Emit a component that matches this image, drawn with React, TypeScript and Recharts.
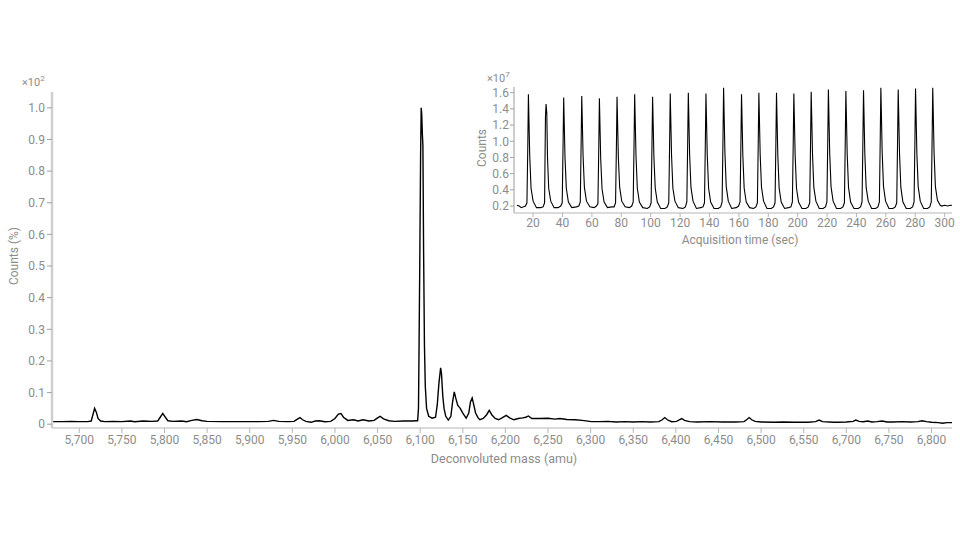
import React from 'react';
import { LineChart, Line, XAxis, YAxis } from 'recharts';

// deconvoluted spectrum, [mass (amu), counts ×10² %]
const spectrumLowMass: [number, number][] = [
  [5668, 0.008], [5680, 0.008], [5690, 0.009], [5700, 0.008], [5710, 0.008],
  [5714, 0.01], [5716, 0.03], [5718, 0.05], [5720, 0.038], [5722, 0.018],
  [5725, 0.01], [5730, 0.008], [5740, 0.009], [5750, 0.008], [5760, 0.01],
  [5765, 0.008], [5775, 0.01], [5785, 0.009], [5792, 0.01], [5795, 0.022],
  [5798, 0.034], [5801, 0.022], [5804, 0.011], [5810, 0.009], [5820, 0.01],
  [5826, 0.008], [5832, 0.012], [5838, 0.015], [5844, 0.011], [5850, 0.009],
  [5870, 0.008], [5890, 0.008], [5910, 0.008], [5922, 0.009], [5928, 0.012],
  [5934, 0.009], [5945, 0.008], [5952, 0.009], [5956, 0.016], [5959, 0.021],
  [5962, 0.014], [5966, 0.009], [5972, 0.006], [5977, 0.01], [5982, 0.011],
  [5988, 0.008], [5995, 0.009], [6000, 0.018], [6004, 0.032], [6007, 0.034],
  [6010, 0.022], [6015, 0.012], [6022, 0.014], [6027, 0.01], [6033, 0.014],
  [6040, 0.01], [6046, 0.012], [6050, 0.02], [6053, 0.025], [6057, 0.017],
  [6063, 0.011], [6070, 0.009], [6080, 0.01], [6090, 0.01], [6096, 0.011],
];

const spectrumMainPeaks: [number, number][] = [
  [6097, 0.011], [6098, 0.05], [6098.6, 0.22], [6099.5, 0.5], [6100.5, 0.85],
  [6101.2, 1.0], [6101.8, 0.98], [6102.5, 0.92], [6103.2, 0.88], [6104, 0.55],
  [6105, 0.25], [6106, 0.12], [6107.5, 0.05], [6110, 0.025], [6114, 0.019],
  [6118, 0.022], [6120, 0.06], [6122, 0.13], [6124, 0.178], [6125, 0.16],
  [6126.5, 0.09], [6128, 0.05], [6130, 0.025], [6133, 0.013], [6136, 0.025],
  [6138, 0.07], [6140, 0.102], [6142, 0.08], [6144, 0.06], [6147, 0.05],
  [6150, 0.035], [6154, 0.019], [6157, 0.035], [6159, 0.07], [6161, 0.083],
  [6163, 0.06], [6165, 0.035], [6168, 0.02], [6170, 0.014], [6174, 0.018],
  [6178, 0.03], [6181, 0.044], [6184, 0.03], [6188, 0.018], [6192, 0.014],
  [6196, 0.02], [6201, 0.028], [6205, 0.02], [6210, 0.014], [6215, 0.018],
  [6220, 0.02], [6224, 0.022], [6227, 0.026], [6231, 0.018], [6240, 0.018],
  [6250, 0.019], [6258, 0.016], [6264, 0.018], [6272, 0.015], [6282, 0.014],
  [6290, 0.012],
];

const spectrumHighMass: [number, number][] = [
  [6301, 0.008], [6310, 0.008], [6320, 0.009], [6330, 0.007], [6340, 0.008],
  [6350, 0.007], [6360, 0.008], [6370, 0.007], [6380, 0.008], [6384, 0.014],
  [6387, 0.021], [6390, 0.014], [6395, 0.008], [6401, 0.009], [6404, 0.014],
  [6407, 0.018], [6410, 0.012], [6416, 0.008], [6425, 0.007], [6440, 0.008],
  [6455, 0.007], [6470, 0.007], [6480, 0.008], [6483, 0.014], [6486, 0.021],
  [6489, 0.014], [6493, 0.009], [6500, 0.007], [6515, 0.006], [6525, 0.007],
  [6540, 0.006], [6555, 0.006], [6564, 0.008], [6568, 0.013], [6572, 0.008],
  [6585, 0.006],
  // axis is cut between 6,590 and 6,690
  [6690, 0.006], [6700, 0.007], [6708, 0.009], [6711, 0.013], [6715, 0.009],
  [6720, 0.008], [6725, 0.01], [6730, 0.007], [6736, 0.008], [6742, 0.01],
  [6748, 0.007], [6755, 0.007], [6765, 0.008], [6775, 0.007], [6784, 0.008],
  [6789, 0.011], [6794, 0.008], [6800, 0.006], [6808, 0.005], [6813, 0.003],
  [6818, 0.005], [6824, 0.005],
];

const massTicks = [
  5700, 5750, 5800, 5850, 5900, 5950, 6000, 6050, 6100, 6150, 6200, 6250,
  6300, 6350, 6400, 6450, 6500, 6550, 6700, 6750, 6800,
];
const percentTicks = [0, 0.1, 0.2, 0.3, 0.4, 0.5, 0.6, 0.7, 0.8, 0.9, 1.0];

// total ion chromatogram, [time (sec), counts ×10⁷]
const ticPoints: [number, number][] = [
  [9, 0.21], [10.5, 0.2], [12, 0.18], [13.5, 0.19], [14.8, 0.2], [15.8, 0.24], [16.4, 0.95], [16.8, 1.58], [17.7, 0.82], [18.6, 0.42], [20, 0.26], [22.3, 0.18],
  [25, 0.18], [26.8, 0.19], [27.8, 0.24], [28.4, 1.3], [28.8, 1.46], [29.3, 1.35], [29.8, 0.8], [30.6, 0.42], [32, 0.26], [34.3, 0.18],
  [37, 0.18], [38.8, 0.2], [39.8, 0.24], [40.4, 0.98], [40.8, 1.54], [41.7, 0.8], [42.6, 0.42], [44, 0.25], [46.3, 0.18],
  [49.5, 0.19], [51.1, 0.2], [52.1, 0.25], [52.7, 1.0], [53.1, 1.56], [54, 0.82], [54.9, 0.43], [56.3, 0.26], [58.6, 0.19],
  [61.5, 0.18], [63.1, 0.2], [64.1, 0.23], [64.7, 0.95], [65.1, 1.53], [66, 0.78], [66.9, 0.41], [68.3, 0.25], [70.6, 0.18],
  [73.5, 0.19], [75.1, 0.19], [76.1, 0.24], [76.7, 0.97], [77.1, 1.55], [78, 0.8], [78.9, 0.43], [80.3, 0.26], [82.6, 0.19],
  [85.5, 0.18], [87.1, 0.2], [88.1, 0.25], [88.7, 1.0], [89.1, 1.58], [90, 0.82], [90.9, 0.42], [92.3, 0.25], [94.6, 0.18],
  [97.7, 0.17], [99.3, 0.19], [100.3, 0.24], [100.9, 0.98], [101.3, 1.55], [102.2, 0.8], [103.1, 0.42], [104.5, 0.25], [106.8, 0.17],
  [109.7, 0.17], [111.3, 0.19], [112.3, 0.24], [112.9, 1.0], [113.3, 1.59], [114.2, 0.82], [115.1, 0.42], [116.5, 0.26], [118.8, 0.18],
  [122, 0.17], [123.6, 0.19], [124.6, 0.25], [125.2, 1.02], [125.6, 1.6], [126.5, 0.83], [127.4, 0.43], [128.8, 0.26], [131.1, 0.17],
  [134, 0.18], [135.6, 0.19], [136.6, 0.24], [137.2, 1.0], [137.6, 1.59], [138.5, 0.82], [139.4, 0.42], [140.8, 0.25], [143.1, 0.17],
  [146, 0.17], [147.6, 0.19], [148.6, 0.25], [149.2, 1.05], [149.6, 1.66], [150.5, 0.86], [151.4, 0.44], [152.8, 0.26], [155.1, 0.17],
  [158.2, 0.18], [159.8, 0.2], [160.8, 0.25], [161.4, 1.0], [161.8, 1.58], [162.7, 0.82], [163.6, 0.42], [165, 0.25], [167.3, 0.18],
  [170, 0.17], [171.6, 0.19], [172.6, 0.24], [173.2, 1.02], [173.6, 1.6], [174.5, 0.83], [175.4, 0.43], [176.8, 0.26], [179.1, 0.17],
  [182, 0.17], [183.6, 0.19], [184.6, 0.24], [185.2, 1.01], [185.6, 1.6], [186.5, 0.82], [187.4, 0.42], [188.8, 0.25], [191.1, 0.17],
  [193.8, 0.18], [195.4, 0.19], [196.4, 0.25], [197, 1.0], [197.4, 1.59], [198.3, 0.82], [199.2, 0.42], [200.6, 0.25], [202.9, 0.17],
  [205.6, 0.17], [207.2, 0.19], [208.2, 0.24], [208.8, 1.03], [209.2, 1.61], [210.1, 0.84], [211, 0.43], [212.4, 0.26], [214.7, 0.17],
  [217.3, 0.17], [218.9, 0.19], [219.9, 0.25], [220.5, 1.04], [220.9, 1.64], [221.8, 0.85], [222.7, 0.44], [224.1, 0.26], [226.4, 0.17],
  [229.2, 0.17], [230.8, 0.19], [231.8, 0.24], [232.4, 1.03], [232.8, 1.62], [233.7, 0.84], [234.6, 0.43], [236, 0.25], [238.3, 0.17],
  [241.2, 0.17], [242.8, 0.19], [243.8, 0.25], [244.4, 1.03], [244.8, 1.63], [245.7, 0.84], [246.6, 0.43], [248, 0.26], [250.3, 0.17],
  [253, 0.17], [254.6, 0.19], [255.6, 0.25], [256.2, 1.06], [256.6, 1.66], [257.5, 0.86], [258.4, 0.44], [259.8, 0.26], [262.1, 0.17],
  [264.8, 0.17], [266.4, 0.19], [267.4, 0.24], [268, 1.04], [268.4, 1.64], [269.3, 0.85], [270.2, 0.43], [271.6, 0.25], [273.9, 0.17],
  [276.6, 0.17], [278.2, 0.19], [279.2, 0.25], [279.8, 1.05], [280.2, 1.65], [281.1, 0.85], [282, 0.44], [283.4, 0.26], [285.7, 0.17],
  [288.3, 0.17], [289.9, 0.19], [290.9, 0.25], [291.5, 1.06], [291.9, 1.66], [292.8, 0.86], [293.7, 0.44], [295.1, 0.27], [297, 0.21],
  [298, 0.2], [300, 0.21], [302, 0.2], [304, 0.21], [305, 0.21],
];

const timeTicks = [20, 40, 60, 80, 100, 120, 140, 160, 180, 200, 220, 240, 260, 280, 300];
const ticCountTicks = [0.2, 0.4, 0.6, 0.8, 1.0, 1.2, 1.4, 1.6];

// masses above the cut are drawn 100 amu to the left
const toAxis = (m: number) => (m >= 6590 ? m - 100 : m);
const fromAxis = (v: number) => (v >= 6590 ? v + 100 : v);

const spectrumData = [...spectrumLowMass, ...spectrumMainPeaks, ...spectrumHighMass].map(
  ([m, c]) => ({ x: toAxis(m), y: c })
);
const ticData = ticPoints.map(([t, c]) => ({ t, c }));

const grey = '#8c8c8c';
const font = 'Roboto, "Noto Sans", sans-serif';
const tickStyle = { fill: grey, fontSize: 12, fontFamily: font };

const App: React.FC = () => {
  return (
    <div style={{ position: 'absolute', left: 0, top: 0, width: 960, height: 540, background: '#fff', fontFamily: font }}>
      <LineChart
        width={960}
        height={540}
        data={spectrumData}
        margin={{ top: 92, right: 8, left: 0, bottom: 84 }}
      >
        <XAxis
          dataKey="x"
          type="number"
          domain={[5668, 6724]}
          allowDataOverflow
          ticks={massTicks.map(toAxis)}
          interval={0}
          tickFormatter={(v: number) => fromAxis(v).toLocaleString('en-US')}
          tick={tickStyle}
          stroke="#b5b5b5"
          tickSize={5}
          tickMargin={2}
          height={28}
        />
        <YAxis
          type="number"
          domain={[-0.012, 1.05]}
          allowDataOverflow
          ticks={percentTicks}
          interval={0}
          tickFormatter={(v: number) => (v === 0 ? '0' : v.toFixed(1))}
          tick={tickStyle}
          axisLine={{ stroke: '#cfcfcf', strokeWidth: 2.5 }}
          tickLine={{ stroke: '#a0a0a0' }}
          tickSize={5}
          tickMargin={2}
          width={52}
        />
        <Line
          type="linear"
          dataKey="y"
          stroke="#000"
          strokeWidth={1.4}
          dot={false}
          isAnimationActive={false}
        />
      </LineChart>

      <div style={{ position: 'absolute', left: 470, top: 60, width: 490, height: 200 }}>
        <LineChart
          width={490}
          height={200}
          data={ticData}
          margin={{ top: 27, right: 8, left: 0, bottom: 25 }}
        >
          <XAxis
            dataKey="t"
            type="number"
            domain={[7, 305]}
            allowDataOverflow
            ticks={timeTicks}
            interval={0}
            tick={tickStyle}
            stroke="#b5b5b5"
            tickSize={4}
            tickMargin={1}
            height={22}
          />
          <YAxis
            type="number"
            domain={[0.114, 1.67]}
            allowDataOverflow
            ticks={ticCountTicks}
            interval={0}
            tickFormatter={(v: number) => v.toFixed(1)}
            tick={tickStyle}
            axisLine={{ stroke: '#bdbdbd', strokeWidth: 1.5 }}
            tickLine={{ stroke: '#a0a0a0' }}
            tickSize={4}
            tickMargin={1}
            width={44}
          />
          <Line
            type="linear"
            dataKey="c"
            stroke="#000"
            strokeWidth={1.1}
            dot={false}
            isAnimationActive={false}
          />
        </LineChart>
      </div>

      {/* axis titles and exponent labels */}
      <div style={{ position: 'absolute', left: 22, top: 74, fontSize: 11, color: grey }}>
        ×10<sup style={{ fontSize: 8 }}>2</sup>
      </div>
      <div
        style={{
          position: 'absolute', left: 14, top: 256, fontSize: 12, color: grey,
          transform: 'translate(-50%, -50%) rotate(-90deg)', whiteSpace: 'nowrap',
        }}
      >
        Counts (%)
      </div>
      <div
        style={{
          position: 'absolute', left: 504, top: 458, fontSize: 12.5, color: grey,
          transform: 'translate(-50%, -50%)', whiteSpace: 'nowrap',
        }}
      >
        Deconvoluted mass (amu)
      </div>
      <div style={{ position: 'absolute', left: 487, top: 70, fontSize: 11, color: grey }}>
        ×10<sup style={{ fontSize: 8 }}>7</sup>
      </div>
      <div
        style={{
          position: 'absolute', left: 482, top: 148, fontSize: 12, color: grey,
          transform: 'translate(-50%, -50%) rotate(-90deg)', whiteSpace: 'nowrap',
        }}
      >
        Counts
      </div>
      <div
        style={{
          position: 'absolute', left: 740, top: 240, fontSize: 12, color: grey,
          transform: 'translate(-50%, -50%)', whiteSpace: 'nowrap',
        }}
      >
        Acquisition time (sec)
      </div>
    </div>
  );
};

export default App;
